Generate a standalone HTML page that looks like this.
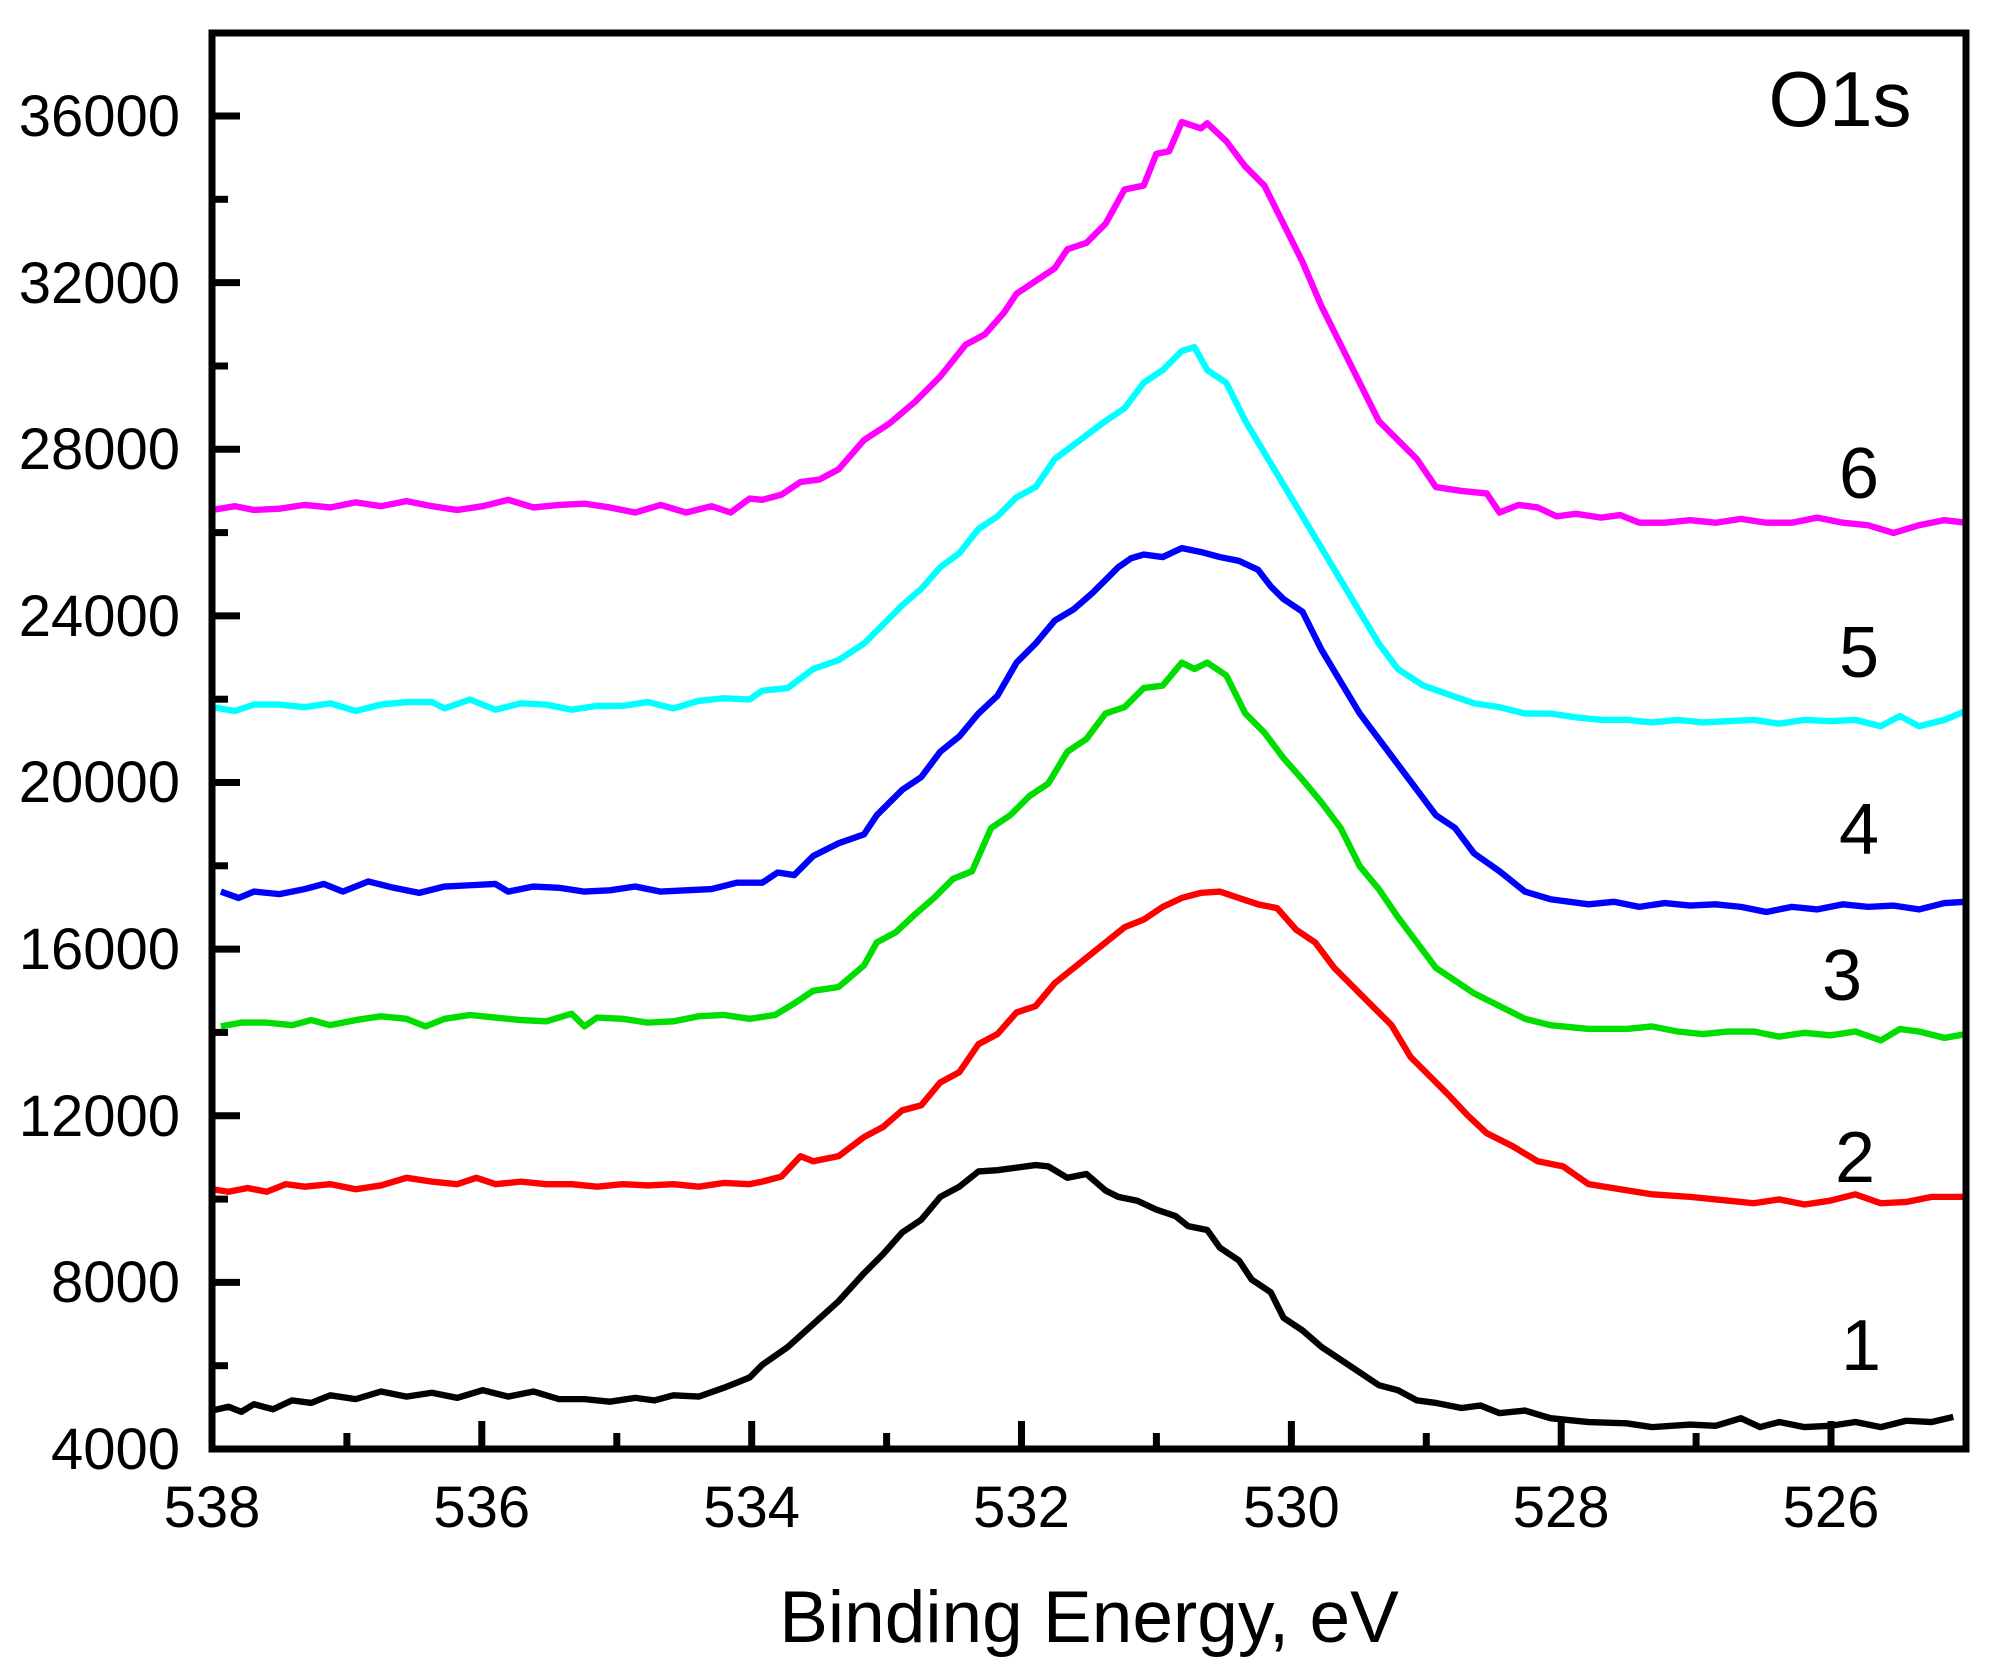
<!DOCTYPE html>
<html><head><meta charset="utf-8"><style>html,body{margin:0;padding:0;background:#fff}svg{display:block}</style></head>
<body>
<svg width="1994" height="1670" viewBox="0 0 1994 1670" xmlns="http://www.w3.org/2000/svg" font-family="Liberation Sans, Arial, sans-serif">
<rect width="1994" height="1670" fill="#fff"/>
<g transform="translate(-0.257,1.2) scale(1.271,1.272)" fill="none" stroke-width="5" stroke-linejoin="round">
<polyline stroke="#000" points="167,1108 180,1105 190,1109 200,1103 215,1107 230,1100 245,1102 260,1096 280,1099 300,1093 320,1097 340,1094 360,1098 380,1092 400,1097 420,1093 440,1099 460,1099 480,1101 500,1098 515,1100 530,1096 550,1097 570,1090 590,1082 600,1072 620,1058 640,1040 660,1022 680,1000 695,985 710,968 725,958 740,940 755,932 770,920 785,919 800,917 815,915 825,916 840,925 855,922 870,935 880,940 895,943 910,950 925,955 935,963 950,966 960,980 975,990 985,1005 1000,1015 1010,1035 1025,1045 1040,1058 1055,1068 1070,1078 1085,1088 1100,1092 1115,1100 1130,1102 1150,1106 1165,1104 1180,1110 1200,1108 1220,1114 1250,1117 1280,1118 1300,1121 1330,1119 1350,1120 1370,1114 1385,1121 1400,1117 1420,1121 1440,1120 1460,1117 1480,1121 1500,1116 1520,1117 1537,1113"/>
<polyline stroke="#f00" points="167,934 180,936 195,933 210,936 225,930 240,932 260,930 280,934 300,931 320,925 340,928 360,930 375,925 390,930 410,928 430,930 450,930 470,932 490,930 510,931 530,930 550,932 570,929 590,930 600,928 615,924 630,908 640,912 660,908 680,893 695,885 710,872 725,868 740,850 755,842 770,820 785,812 800,795 815,790 830,772 850,756 870,740 885,728 900,722 915,712 930,705 945,701 960,700 975,705 990,710 1005,713 1020,730 1035,740 1050,760 1065,775 1080,790 1095,805 1110,830 1125,845 1140,860 1155,876 1170,890 1190,900 1210,912 1230,916 1250,930 1275,934 1300,938 1330,940 1360,943 1380,945 1400,942 1420,946 1440,943 1460,938 1480,945 1500,944 1520,940 1547,940"/>
<polyline stroke="#0d0" points="174,806 190,803 210,803 230,805 245,801 260,805 280,801 300,798 320,800 335,806 350,800 370,797 390,799 410,801 430,802 450,796 460,806 470,799 490,800 510,803 530,802 550,798 570,797 590,800 610,797 625,788 640,778 660,775 680,758 690,740 705,732 720,718 735,705 750,690 765,684 780,650 795,640 810,625 825,615 840,590 855,580 870,560 885,555 900,540 915,538 930,520 940,525 950,520 965,530 980,560 995,575 1010,595 1025,612 1040,630 1055,650 1070,680 1085,698 1100,720 1115,740 1130,760 1145,770 1160,780 1180,790 1200,800 1220,805 1250,808 1280,808 1300,806 1320,810 1340,812 1360,810 1380,810 1400,814 1420,811 1440,813 1460,810 1480,817 1495,808 1510,810 1530,815 1547,812"/>
<polyline stroke="#00f" points="174,700 188,705 200,700 220,702 240,698 255,694 270,700 290,692 310,697 330,701 350,696 370,695 390,694 400,700 420,696 440,697 460,700 480,699 500,696 520,700 540,699 560,698 580,693 600,693 612,685 625,687 640,672 660,662 680,655 690,640 710,620 725,610 740,590 755,578 770,560 785,546 800,520 815,505 830,487 845,478 860,465 870,455 880,445 890,438 900,435 915,437 930,430 945,433 960,437 975,440 990,447 1000,460 1010,470 1025,480 1040,510 1055,535 1070,560 1085,580 1100,600 1115,620 1130,640 1145,650 1160,670 1180,684 1200,700 1220,706 1250,710 1270,708 1290,712 1310,709 1330,711 1350,710 1370,712 1390,716 1410,712 1430,714 1450,710 1470,712 1490,711 1510,714 1530,709 1547,708"/>
<polyline stroke="#0ff" points="167,555 185,558 200,553 220,553 240,555 260,552 280,558 300,553 320,551 340,551 350,556 370,549 390,557 410,552 430,553 450,557 470,554 490,554 510,551 530,556 550,550 570,548 590,549 600,542 620,540 640,525 660,518 680,505 695,490 710,475 725,462 740,445 755,434 770,415 785,405 800,390 815,382 830,360 850,345 870,330 885,320 900,300 915,290 930,275 940,272 950,290 965,300 980,330 995,355 1010,380 1025,405 1040,430 1055,455 1070,480 1085,505 1100,525 1120,538 1140,545 1160,552 1180,555 1200,560 1220,560 1240,563 1260,565 1280,565 1300,567 1320,565 1340,567 1360,566 1380,565 1400,568 1420,565 1440,566 1460,565 1480,570 1495,562 1510,570 1530,565 1547,558"/>
<polyline stroke="#f0f" points="167,400 185,397 200,400 220,399 240,396 260,398 280,394 300,397 320,393 340,397 360,400 380,397 400,392 420,398 440,396 460,395 480,398 500,402 520,396 540,402 560,397 575,402 590,391 600,392 615,388 630,378 645,376 660,368 680,345 700,332 720,315 740,295 760,270 775,262 790,245 800,230 815,220 830,210 840,195 855,190 870,175 885,148 900,145 910,120 920,118 930,95 945,100 950,96 965,110 980,130 995,145 1010,175 1025,205 1040,240 1055,270 1070,300 1085,330 1100,345 1115,360 1130,382 1150,385 1170,387 1180,402 1195,396 1210,398 1225,405 1240,403 1260,406 1275,404 1290,410 1310,410 1330,408 1350,410 1370,407 1390,410 1410,410 1430,406 1450,410 1470,412 1490,418 1510,412 1530,408 1547,410"/>
</g>
<rect x="212" y="33" width="1754" height="1416" fill="none" stroke="#000" stroke-width="7"/>
<g stroke="#000" stroke-width="7">
<line x1="212" y1="1365.7" x2="228" y2="1365.7"/><line x1="212" y1="1282.4" x2="240" y2="1282.4"/>
<line x1="212" y1="1199.1" x2="228" y2="1199.1"/><line x1="212" y1="1115.8" x2="240" y2="1115.8"/>
<line x1="212" y1="1032.4" x2="228" y2="1032.4"/><line x1="212" y1="949.1" x2="240" y2="949.1"/>
<line x1="212" y1="865.8" x2="228" y2="865.8"/><line x1="212" y1="782.5" x2="240" y2="782.5"/>
<line x1="212" y1="699.2" x2="228" y2="699.2"/><line x1="212" y1="615.9" x2="240" y2="615.9"/>
<line x1="212" y1="532.6" x2="228" y2="532.6"/><line x1="212" y1="449.3" x2="240" y2="449.3"/>
<line x1="212" y1="366" x2="228" y2="366"/><line x1="212" y1="282.6" x2="240" y2="282.6"/>
<line x1="212" y1="199.3" x2="228" y2="199.3"/><line x1="212" y1="116" x2="240" y2="116"/>
<line x1="346.9" y1="1449" x2="346.9" y2="1433"/><line x1="481.8" y1="1449" x2="481.8" y2="1421"/>
<line x1="616.8" y1="1449" x2="616.8" y2="1433"/><line x1="751.7" y1="1449" x2="751.7" y2="1421"/>
<line x1="886.6" y1="1449" x2="886.6" y2="1433"/><line x1="1021.5" y1="1449" x2="1021.5" y2="1421"/>
<line x1="1156.4" y1="1449" x2="1156.4" y2="1433"/><line x1="1291.4" y1="1449" x2="1291.4" y2="1421"/>
<line x1="1426.3" y1="1449" x2="1426.3" y2="1433"/><line x1="1561.2" y1="1449" x2="1561.2" y2="1421"/>
<line x1="1696.1" y1="1449" x2="1696.1" y2="1433"/><line x1="1831" y1="1449" x2="1831" y2="1421"/>
</g>
<g font-size="58" fill="#000" text-anchor="end">
<text x="180" y="1469">4000</text><text x="180" y="1302">8000</text><text x="180" y="1136">12000</text>
<text x="180" y="969">16000</text><text x="180" y="802">20000</text><text x="180" y="636">24000</text>
<text x="180" y="469">28000</text><text x="180" y="303">32000</text><text x="180" y="136">36000</text>
</g>
<g font-size="58" fill="#000" text-anchor="middle">
<text x="212" y="1527">538</text><text x="481.8" y="1527">536</text><text x="751.7" y="1527">534</text>
<text x="1021.5" y="1527">532</text><text x="1291.4" y="1527">530</text><text x="1561.2" y="1527">528</text>
<text x="1831" y="1527">526</text>
</g>
<text x="1840" y="126" font-size="78" text-anchor="middle">O1s</text>
<g font-size="72" text-anchor="middle">
<text x="1859" y="498">6</text>
<text x="1859" y="677">5</text>
<text x="1859" y="854">4</text>
<text x="1842" y="1000">3</text>
<text x="1855" y="1182">2</text>
<text x="1861" y="1370">1</text>
</g>
<text x="1089" y="1642" font-size="73" text-anchor="middle">Binding Energy, eV</text>
</svg>
</body></html>
